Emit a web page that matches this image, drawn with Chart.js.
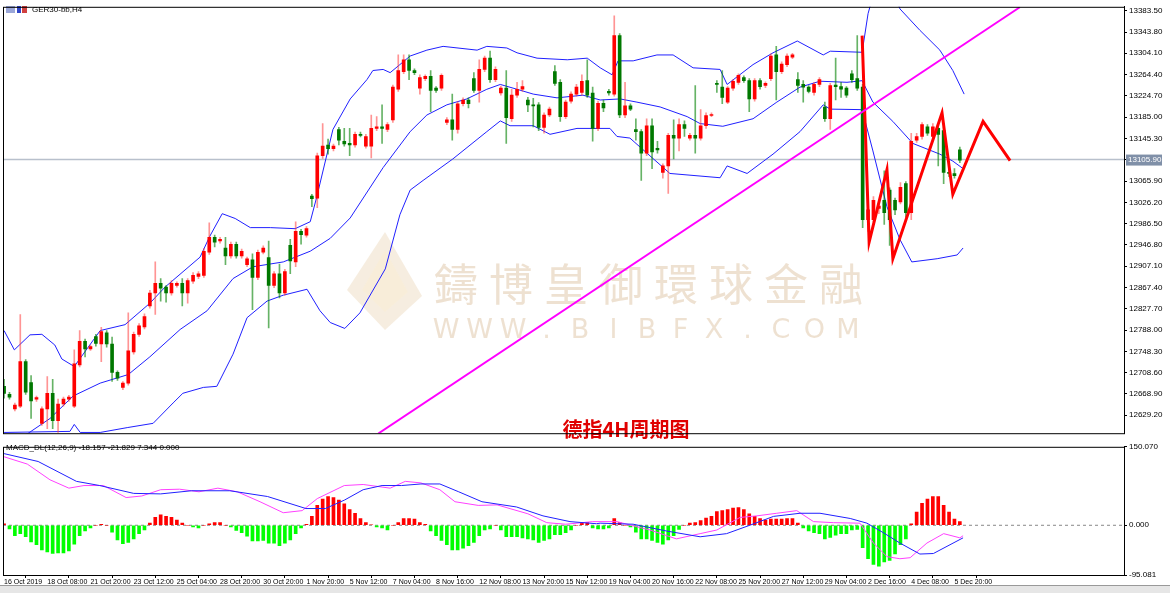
<!DOCTYPE html>
<html><head><meta charset="utf-8">
<script src="https://cdn.jsdelivr.net/npm/chart.js@4.4.1/dist/chart.umd.min.js"></script>
<style>
html,body{margin:0;padding:0;background:#fff;}
#wrap{position:relative;width:1170px;height:593px;overflow:hidden;background:#fff;}
#m{position:absolute;left:0;top:0;width:1170px;height:440px;}
#d{position:absolute;left:0;top:440px;width:1170px;height:145px;}
#tabs{position:absolute;left:0;top:585px;width:1170px;height:8px;background:#e6e6e6;border-top:1px solid #999;}
</style></head><body>
<div id="wrap"><div id="m"><canvas id="c1"></canvas></div><div id="d"><canvas id="c2"></canvas></div><div id="tabs"></div></div>
<script>
const openP=[12683,12668,12641,12646,12729,12690,12659,12614,12641,12670,12619,12650,12659,12646,12723,12767,12753,12776,12762,12783,12762,12709,12681,12689,12747,12780,12794,12833,12857,12875,12868,12857,12871,12875,12857,12879,12888,12890,12933,12961,12954,12941,12926,12948,12926,12910,12919,12886,12933,12923,12871,12893,12857,12946,12915,12972,12965,
13038,13034,13113,13133,13126,13162,13140,13136,13133,13153,13131,13131,13164,13167,13162,13180,13237,13270,13292,13272,13239,13257,13261,13239,13239,13175,13180,13162,13210,13217,13257,13235,13274,13295,13255,13230,13239,13182,13226,13237,13217,13208,13208,13166,13189,13270,13250,13186,13215,13228,13231,13253,13230,13164,13211,13233,13228,13337,13189,
13206,13162,13158,13118,13169,13127,13082,13094,13151,13146,13171,13146,13151,13146,13169,13188,13248,13241,13213,13239,13250,13259,13253,13219,13253,13244,13257,13301,13270,13283,13297,13255,13246,13241,13231,13246,13204,13182,13245,13242,13239,13266,13257,13241,12994,12994,13015,13030,13049,13030,13027,13061,13007,13142,13149,13167,13149,13164,13160,13082,13080,13124];
const highP=[12696,12672,12652,12817,12733,12703,12665,12645,12701,12696,12659,12663,12666,12751,12787,12771,12760,12780,12793,12787,12775,12712,12692,12820,12784,12800,12818,12862,12915,12884,12871,12880,12878,12884,12884,12895,12897,12940,12988,12965,12961,12961,12952,12952,12939,12924,12930,12937,12945,12954,12897,12911,12901,12957,12990,12976,12981,
13041,13118,13173,13144,13135,13166,13164,13164,13157,13157,13153,13189,13186,13208,13175,13245,13301,13301,13301,13275,13264,13264,13272,13242,13266,13184,13228,13214,13221,13221,13268,13292,13299,13308,13279,13243,13272,13237,13250,13253,13222,13220,13212,13193,13204,13281,13255,13217,13232,13246,13264,13292,13241,13215,13217,13237,13374,13341,13250,
13210,13182,13162,13182,13182,13140,13098,13155,13180,13182,13178,13155,13244,13199,13193,13193,13253,13272,13242,13255,13266,13262,13257,13257,13257,13251,13303,13317,13288,13303,13304,13268,13253,13244,13250,13259,13213,13248,13295,13250,13242,13272,13337,13246,13021,13037,13025,13085,13053,13034,13063,13065,13155,13155,13175,13171,13173,13171,13167,13089,13089,13129];
const lowP=[12661,12659,12637,12643,12668,12623,12655,12610,12604,12604,12597,12646,12655,12643,12719,12738,12750,12758,12729,12756,12692,12694,12677,12685,12743,12776,12790,12829,12817,12842,12840,12853,12868,12833,12838,12875,12884,12886,12929,12943,12950,12910,12922,12922,12922,12906,12826,12882,12930,12792,12867,12848,12853,12893,12906,12948,12961,
13018,13016,13108,13116,13122,13133,13131,13113,13129,13148,13127,13109,13160,13136,13158,13175,13233,13266,13255,13264,13228,13253,13195,13231,13235,13171,13142,13155,13206,13202,13231,13213,13270,13250,13251,13226,13136,13177,13222,13233,13195,13167,13160,13155,13186,13244,13177,13182,13211,13224,13226,13222,13140,13160,13195,13226,13224,13184,13184,
13197,13142,13067,13113,13089,13118,13071,13043,13107,13122,13149,13142,13118,13142,13164,13186,13231,13210,13210,13235,13246,13250,13195,13215,13237,13240,13253,13217,13266,13279,13294,13231,13213,13230,13226,13242,13177,13162,13217,13222,13222,13250,13235,12979,12972,12990,13005,12985,12946,13003,13023,12998,12994,13138,13144,13151,13144,13094,13061,13074,13071,13100];
const closeP=[12670,12663,12648,12729,12672,12656,12662,12641,12670,12619,12650,12659,12663,12725,12767,12753,12757,12763,12785,12762,12709,12698,12689,12749,12780,12796,12813,12857,12875,12866,12857,12875,12875,12857,12880,12890,12893,12935,12961,12952,12957,12926,12948,12926,12935,12921,12886,12933,12941,12871,12893,12857,12897,12917,12972,12966,12977,
13033,13113,13131,13126,13131,13142,13135,13133,13153,13151,13149,13164,13167,13164,13171,13241,13272,13292,13272,13268,13259,13261,13235,13235,13263,13180,13162,13210,13217,13210,13235,13274,13295,13255,13274,13239,13184,13226,13237,13242,13208,13206,13166,13189,13200,13248,13186,13213,13228,13241,13252,13226,13164,13211,13202,13230,13337,13189,13206,
13200,13158,13118,13169,13120,13124,13094,13151,13146,13171,13164,13151,13146,13169,13188,13190,13246,13222,13239,13252,13263,13253,13219,13253,13242,13248,13299,13270,13284,13299,13301,13244,13241,13233,13246,13255,13182,13244,13242,13237,13226,13255,13239,12994,13012,13030,13019,13007,12994,13012,13054,13007,13140,13149,13171,13155,13167,13153,13082,13080,13076,13105];

// Bollinger band vertices [bar index, price]
const bbUpper=[[0,12787],[1.9,12751],[4.8,12779],[7,12780],[9.4,12760],[10.7,12734],[13,12720],[17.8,12787],[22.4,12798],[27,12838],[29.8,12868],[36.3,12924],[38.1,12963],[40.4,13005],[42.8,12996],[45.6,12979],[49.3,12979],[53.9,12977],[56.7,12990],[57.9,13036],[60.9,13162],[64.1,13219],[67.2,13255],[68.3,13272],[70.2,13274],[71.5,13268],[73.3,13283],[75.2,13299],[78.3,13310],[81.3,13317],[87.6,13310],[89.4,13317],[93.1,13314],[95,13305],[98.7,13295],[104.3,13292],[108,13295],[110.4,13277],[112.6,13264],[113.7,13290],[116.5,13290],[120.9,13301],[123.9,13301],[127.6,13277],[132.6,13274],[133.9,13246],[138.7,13283],[142.4,13305],[146.9,13327],[151.7,13301],[153,13308],[158.9,13306],[160,13378],[160.9,13411],[163.5,13451],[165.9,13387],[169.6,13347],[173.3,13310],[175.7,13272],[177.8,13228]];
const bbMiddle=[[2,12585],[4.4,12595],[8.5,12623],[12.8,12665],[17.8,12689],[23,12705],[27,12738],[32.6,12789],[37.6,12824],[42.4,12884],[46.1,12906],[51.7,12915],[56.7,12935],[60.4,12959],[64.1,12997],[70.2,13091],[75.2,13158],[78.3,13189],[82,13208],[85.7,13219],[89.4,13237],[91.9,13246],[95,13237],[98,13228],[102.4,13221],[107.2,13226],[110.4,13217],[114.1,13219],[117.2,13213],[121.5,13204],[126.5,13186],[128.9,13173],[133.1,13168],[138.7,13182],[143.1,13213],[147.4,13241],[151.1,13252],[156.1,13250],[158.9,13253],[160.9,13213],[164.6,13177],[168.3,13136],[173.3,13116],[175.7,13103],[177.6,13089]];
const bbLower=[[0,12597],[12.2,12599],[13,12612],[14.1,12597],[17.8,12597],[22.8,12606],[27.6,12614],[31.3,12652],[33.1,12670],[36.9,12681],[39.4,12683],[42.4,12743],[45,12811],[48.7,12842],[51.7,12853],[56.1,12864],[58.5,12824],[60.4,12802],[63.1,12791],[65.9,12820],[70.6,12902],[73.3,13003],[75.2,13049],[77.6,13067],[83.1,13107],[89.4,13158],[91.9,13178],[93.7,13169],[98,13169],[101.1,13153],[106.1,13164],[112.2,13164],[113.5,13149],[115.9,13146],[123.3,13080],[132.6,13072],[133.9,13094],[137.6,13080],[142.4,13116],[147.4,13158],[151.7,13208],[153,13200],[158.9,13199],[160.9,13122],[163.5,13018],[165.9,12957],[168.1,12915],[172.8,12921],[176.5,12928],[177.6,12941]];
const trendLine=[[69.3,12595],[188.1,13390]];
const zigzag=[[158.9,13337],[160.2,12952],[163.5,13087],[164.6,12921],[173.7,13193],[175.7,13041],[181.3,13177],[186.3,13104]];
const lastPrice=13105.90;
const priceTicks=[13383.50,13343.80,13304.10,13264.40,13224.70,13185.00,13145.30,13105.90,13065.90,13026.20,12986.50,12946.80,12907.10,12867.40,12827.70,12788.00,12748.30,12708.60,12668.90,12629.20];

const macdHist=[3,-7,-20,-16,-22,-32,-37,-47,-51,-54,-53,-53,-49,-36,-20,-11,-5,0,2,0,-13,-28,-35,-33,-26,-16,-9,4,15,20,17,15,10,4,0,-3,-5,0,3,5,5,0,-3,-10,-14,-21,-30,-30,-29,-34,-34,-39,-34,-28,-16,-5,2,17,38,50,55,53,48,41,30,23,13,5,1,-3,-5,-9,0,5,13,13,12,5,2,-11,-20,-29,-37,-47,-47,-44,-39,-33,-20,-9,-7,0,-9,-22,-22,-22,-24,-26,-28,-33,-29,-26,-18,-18,-14,-9,0,5,5,-5,
-7,-7,-5,13,5,0,-3,-13,-26,-26,-29,-33,-36,-28,-20,-8,0,4,5,9,14,17,26,28,30,33,34,30,22,17,13,10,12,12,12,13,13,4,-5,-11,-14,-16,-26,-23,-19,-16,-16,-9,-8,-43,-64,-75,-78,-70,-67,-55,-37,-26,3,25,42,50,55,55,38,25,12,7];
const macdBlue=[[0,137],[6.3,122],[13.4,84],[17.7,76],[24,61],[29,60],[34.7,66],[41.8,66],[48.8,55],[55.9,32],[59.5,32],[63,48],[66.5,68],[70,76],[73.6,76],[77.2,79],[80.7,79],[84.2,64],[88.5,45],[94.9,35],[99.8,18],[104.8,7],[109.7,3],[110.4,4],[116.5,2],[122.7,-11],[128.9,-22],[133.8,-16],[138.1,0],[142.5,17],[147.4,23],[151.1,23],[156.7,13],[159.8,4],[162.8,-14],[165.9,-34],[169.6,-55],[172.1,-54],[177.6,-24]];
const macdMagenta=[[0,131],[4.3,117],[8.5,87],[12,71],[14.8,76],[18.4,76],[22.6,53],[25.5,56],[29,68],[32.5,69],[36.1,64],[39.6,71],[43.2,64],[47.4,45],[51.7,24],[55.2,28],[58,51],[63,76],[66.5,78],[71.5,71],[74.3,84],[77.2,81],[80.7,68],[83.5,45],[87.8,38],[91.3,39],[97,22],[100.5,5],[104,2],[109,7],[113.5,7],[116.5,-1],[119.6,-9],[124.5,-26],[128.9,-16],[132,-9],[136.3,15],[139.4,18],[143.1,23],[146.8,28],[149.9,7],[153.6,5],[158.5,4],[161,-34],[163.5,-60],[165.9,-64],[167.8,-62],[170.9,-34],[174,-16],[177,-24],[177.6,-20]];
const macdTicks=[150.070,0.000,-95.081];
const dateLabels=["16 Oct 2019","18 Oct 08:00","21 Oct 20:00","23 Oct 12:00","25 Oct 04:00","28 Oct 20:00","30 Oct 20:00","1 Nov 20:00","5 Nov 12:00","7 Nov 04:00","8 Nov 16:00","12 Nov 08:00","13 Nov 20:00","15 Nov 12:00","19 Nov 04:00","20 Nov 16:00","22 Nov 08:00","25 Nov 20:00","27 Nov 12:00","29 Nov 04:00","2 Dec 16:00","4 Dec 08:00","5 Dec 20:00"];
const dateStep=8;

const FONT='"Liberation Sans", Arial, sans-serif';
Chart.defaults.font.family=FONT;Chart.defaults.font.size=8;Chart.defaults.color='#000';
Chart.defaults.animation=false;
const XMIN=-0.2,XMAX=207.4;
const pts=a=>a.map(p=>({x:p[0],y:p[1]}));
const up=i=>closeP[i]>=openP[i];
const bodies=openP.map((o,i)=>({x:i,y:[Math.min(o,closeP[i]),Math.max(o,closeP[i])+ (Math.abs(o-closeP[i])<2?1.5:0)]}));
const wicks=openP.map((o,i)=>({x:i,y:[lowP[i],highP[i]]}));

const overlay={id:'ov',
 beforeDatasetsDraw(c){const x=c.ctx;x.save();
  x.fillStyle='rgba(238,222,198,0.55)';
  x.beginPath();x.moveTo(385,232);x.lineTo(422,296);x.lineTo(385,330);x.lineTo(347,290);x.closePath();x.fill();
  x.fillStyle='rgba(250,238,215,0.7)';x.beginPath();x.moveTo(385,250);x.lineTo(408,292);x.lineTo(385,312);x.lineTo(362,290);x.closePath();x.fill();
  x.fillStyle='rgba(226,205,178,0.6)';x.font='44px "Noto Sans CJK TC"';x.textBaseline='middle';x.textAlign='center';
  const t='鑄博皇御環球金融';for(let k=0;k<t.length;k++)x.fillText(t[k],456+k*55,284);
  x.font='27px "DejaVu Sans"';const w='WWW.BIBFX.COM';for(let k=0;k<w.length;k++)x.fillText(w[k],446+k*33.5,331);
  x.restore();},
 afterDraw(c){const x=c.ctx;x.save();
  x.font='8px '+FONT;x.textBaseline='middle';x.textAlign='left';
  x.fillStyle='#9aa6d8';x.fillRect(6,6,9,7);x.fillStyle='#3046c8';x.fillRect(17,6,4,7);x.fillStyle='#d04040';x.fillRect(22,6,5,7);
  x.fillStyle='#000';x.fillText('GER30-bb,H4',32,10);
  x.fillStyle='#e00000';x.font='bold 20px "Noto Sans CJK SC"';x.textAlign='center';x.fillText('德指4H周期图',626,429);
  const ys=c.scales.y.getPixelForValue(lastPrice);const ca=c.chartArea;
  x.fillStyle='#8090a8';x.fillRect(ca.right+2,ys-5,36,11);x.fillStyle='#fff';x.font='8px '+FONT;x.textAlign='left';x.fillText(lastPrice.toFixed(2),ca.right+4,ys+0.5);
  x.strokeStyle='#000';x.lineWidth=1;x.strokeRect(ca.left+0.5,ca.top+0.5,ca.right-ca.left,ca.bottom-ca.top);
  x.restore();}};

new Chart(document.getElementById('c1'),{type:'bar',
 data:{datasets:[
  {type:'line',data:pts(trendLine),borderColor:'#ff00ff',borderWidth:2,pointRadius:0,order:0},
  {type:'line',data:pts(zigzag),borderColor:'#ff0000',borderWidth:3,pointRadius:0,order:0},
  {data:bodies,backgroundColor:openP.map((o,i)=>up(i)?'#ff0000':'#007800'),barThickness:3,grouped:false,order:1},
  {data:wicks,backgroundColor:openP.map((o,i)=>up(i)?'rgba(255,60,60,0.55)':'rgba(0,128,0,0.6)'),barThickness:1,grouped:false,order:2},
  {type:'line',data:pts(bbUpper),borderColor:'#2020ff',borderWidth:1,pointRadius:0,order:3},
  {type:'line',data:pts(bbMiddle),borderColor:'#2020ff',borderWidth:1,pointRadius:0,order:3},
  {type:'line',data:pts(bbLower),borderColor:'#2020ff',borderWidth:1,pointRadius:0,order:3},
  {type:'line',data:[{x:XMIN,y:lastPrice},{x:XMAX,y:lastPrice}],borderColor:'#b8c0cc',borderWidth:1.5,pointRadius:0,order:4}
 ]},
 options:{responsive:true,maintainAspectRatio:false,layout:{padding:{left:3,top:3,right:0,bottom:2}},
  plugins:{legend:{display:false},tooltip:{enabled:false}},
  scales:{x:{type:'linear',display:false,min:XMIN,max:XMAX,offset:false},
   y:{position:'right',min:12595.6,max:13390.8,afterFit:s=>{s.width=46;},
    afterBuildTicks:s=>{s.ticks=priceTicks.map(v=>({value:v}));},
    grid:{drawOnChartArea:false,tickLength:3,color:'#000'},border:{color:'#000'},
    ticks:{padding:2,callback:v=>v===lastPrice?'':v.toFixed(2),font:{size:8},color:'#000'}}}},
 plugins:[overlay]});

const ov2={id:'ov2',afterDraw(c){const x=c.ctx;x.save();x.fillStyle='#000';x.font='8px '+FONT;x.textBaseline='middle';
 x.fillText('MACD_DL(12,26,9) -18.157 -21.829 7.344 0.000',6,8);
 const ca=c.chartArea;x.strokeStyle='#000';x.lineWidth=1;x.strokeRect(ca.left+0.5,ca.top+0.5,ca.right-ca.left,ca.bottom-ca.top);x.restore();}};
new Chart(document.getElementById('c2'),{type:'bar',
 data:{datasets:[
  {type:'line',data:pts(macdBlue),borderColor:'#2020ff',borderWidth:1,pointRadius:0,order:0},
  {type:'line',data:pts(macdMagenta),borderColor:'#ff40ff',borderWidth:1,pointRadius:0,order:0},
  {data:macdHist.map((v,i)=>({x:i,y:v})),backgroundColor:macdHist.map(v=>v>=0?'#ff0000':'#00ff00'),barThickness:3,grouped:false,order:2},
  {type:'line',data:[{x:XMIN,y:0},{x:XMAX,y:0}],borderColor:'#888',borderWidth:1,borderDash:[3,3],pointRadius:0,order:3}
 ]},
 options:{responsive:true,maintainAspectRatio:false,layout:{padding:{left:3,top:2,right:0,bottom:0}},
  plugins:{legend:{display:false},tooltip:{enabled:false}},
  scales:{x:{type:'linear',min:XMIN,max:XMAX,offset:false,afterFit:s=>{s.height=10;},
    afterBuildTicks:s=>{s.ticks=dateLabels.map((l,k)=>({value:k*dateStep}));},
    grid:{drawOnChartArea:false,tickLength:3,color:'#000'},border:{color:'#000'},
    ticks:{align:'start',maxRotation:0,autoSkip:false,padding:0,callback:(v)=>dateLabels[Math.round(v/dateStep)],font:{size:7}}},
   y:{position:'right',min:-95.081,max:150.07,afterFit:s=>{s.width=46;},
    afterBuildTicks:s=>{s.ticks=macdTicks.map(v=>({value:v}));},
    grid:{drawOnChartArea:false,tickLength:3,color:'#000'},border:{color:'#000'},
    ticks:{padding:2,callback:v=>v.toFixed(3),font:{size:8}}}}},
 plugins:[ov2]});
</script></body></html>
